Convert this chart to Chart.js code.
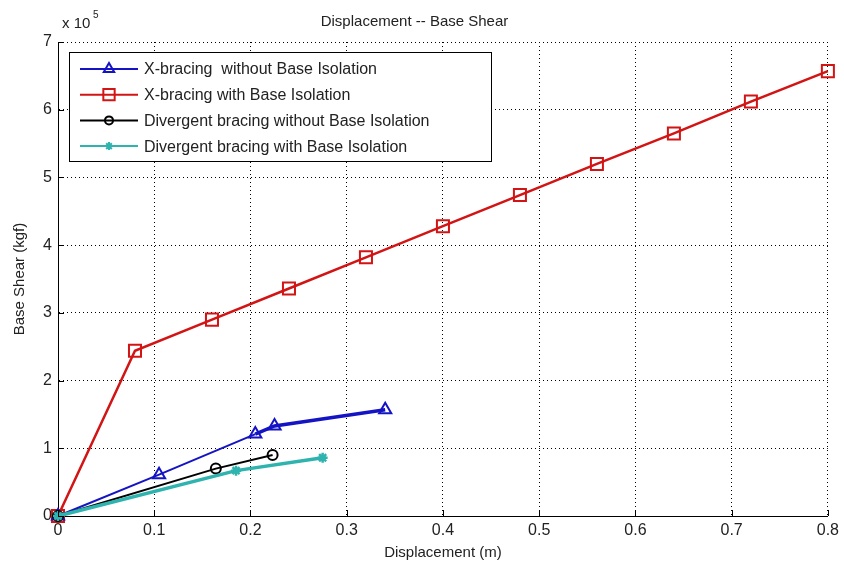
<!DOCTYPE html>
<html>
<head>
<meta charset="utf-8">
<script src="https://cdn.jsdelivr.net/npm/chart.js@4.4.1/dist/chart.umd.min.js"></script>
<style>
  html, body { margin: 0; padding: 0; background: #fff; }
  #wrap { width: 844px; height: 570px; position: relative; }
</style>
</head>
<body>
<div id="wrap"><canvas id="shearChart"></canvas></div>
<script>
// valores (deslocamento em m, cortante em 1e5 kgf)
const xTickLabels = ["0", "0.1", "0.2", "0.3", "0.4", "0.5", "0.6", "0.7", "0.8"];
const yTickLabels = ["0", "1", "2", "3", "4", "5", "6", "7"];

const xbNoIsoX = [0, 0.105, 0.205, 0.225, 0.34];
const xbNoIsoY = [0, 0.61, 1.21, 1.33, 1.57];

const xbIsoX = [0, 0.08, 0.16, 0.24, 0.32, 0.40, 0.48, 0.56, 0.64, 0.72, 0.80];
const xbIsoY = [0, 2.44, 2.90, 3.36, 3.82, 4.28, 4.74, 5.20, 5.65, 6.12, 6.57];

const dvNoIsoX = [0, 0.164, 0.223];
const dvNoIsoY = [0, 0.70, 0.90];

const dvIsoX = [0, 0.185, 0.275];
const dvIsoY = [0, 0.67, 0.86];

const seriesLabels = [
  "X-bracing  without Base Isolation",
  "X-bracing with Base Isolation",
  "Divergent bracing without Base Isolation",
  "Divergent bracing with Base Isolation",
];

const FONT = "'Liberation Sans', Arial, sans-serif";

function pares(xs, ys) {
  return xs.map((x, i) => ({ x, y: ys[i] }));
}

// ticks para dentro, como no MATLAB
const ticksInternos = {
  id: "ticksInternos",
  afterDatasetsDraw(chart) {
    const { ctx, chartArea, scales } = chart;
    ctx.save();
    ctx.strokeStyle = "#000";
    ctx.lineWidth = 1;
    scales.x.ticks.forEach((t) => {
      const px = Math.round(scales.x.getPixelForValue(t.value)) + 0.5;
      ctx.beginPath();
      ctx.moveTo(px, chartArea.bottom);
      ctx.lineTo(px, chartArea.bottom - 6);
      ctx.stroke();
    });
    scales.y.ticks.forEach((t) => {
      const py = Math.round(scales.y.getPixelForValue(t.value)) + 0.5;
      ctx.beginPath();
      ctx.moveTo(chartArea.left, py);
      ctx.lineTo(chartArea.left + 6, py);
      ctx.stroke();
    });
    // multiplicador do eixo y
    ctx.fillStyle = "#222";
    ctx.font = "15px " + FONT;
    ctx.textBaseline = "alphabetic";
    ctx.fillText("x 10", chartArea.left + 4, chartArea.top - 14);
    ctx.font = "10px " + FONT;
    ctx.fillText("5", chartArea.left + 35, chartArea.top - 24);
    ctx.restore();
  },
};

// legenda dentro da área do gráfico
const legendaInterna = {
  id: "legendaInterna",
  afterDraw(chart) {
    const { ctx, chartArea } = chart;
    const x0 = chartArea.left + 11;
    const y0 = chartArea.top + 10;
    const w = 422;
    const h = 109;
    ctx.save();
    ctx.fillStyle = "#fff";
    ctx.fillRect(x0, y0, w, h);
    ctx.strokeStyle = "#000";
    ctx.lineWidth = 1;
    ctx.strokeRect(x0 + 0.5, y0 + 0.5, w, h);

    chart.data.datasets.forEach((ds, i) => {
      const yy = y0 + 17 + i * 25.7;
      ctx.strokeStyle = ds.borderColor;
      ctx.lineWidth = 2;
      ctx.beginPath();
      ctx.moveTo(x0 + 11, yy);
      ctx.lineTo(x0 + 69, yy);
      ctx.stroke();
      ctx.fillStyle = ds.pointBackgroundColor;
      Chart.helpers.drawPoint(
        ctx,
        {
          pointStyle: ds.pointStyle,
          radius: ds.legendRadius,
          borderWidth: 2,
        },
        x0 + 40,
        yy
      );
      ctx.fillStyle = "#222";
      ctx.font = "16px " + FONT;
      ctx.textBaseline = "middle";
      ctx.fillText(seriesLabels[i], x0 + 75, yy + 1);
    });
    ctx.restore();
  },
};

const ctx = document.getElementById("shearChart").getContext("2d");
new Chart(ctx, {
  type: "line",
  data: {
    datasets: [
      {
        label: seriesLabels[0],
        data: pares(xbNoIsoX, xbNoIsoY),
        borderColor: "#1414c4",
        backgroundColor: "#1414c4",
        borderWidth: 2,
        segment: { borderWidth: (c) => (c.p0DataIndex >= 2 ? 3.5 : 2) },
        pointStyle: "triangle",
        pointRadius: 7,
        legendRadius: 6,
        pointBorderWidth: 2,
        pointBackgroundColor: "rgba(255,255,255,0)",
        order: 2,
      },
      {
        label: seriesLabels[1],
        data: pares(xbIsoX, xbIsoY),
        borderColor: "#d21414",
        backgroundColor: "#d21414",
        borderWidth: 2.5,
        pointStyle: "rect",
        pointRadius: 8.5,
        legendRadius: 8,
        pointBorderWidth: 2,
        pointBackgroundColor: "rgba(255,255,255,0)",
        order: 3,
      },
      {
        label: seriesLabels[2],
        data: pares(dvNoIsoX, dvNoIsoY),
        borderColor: "#000",
        backgroundColor: "#000",
        borderWidth: 2,
        pointStyle: "circle",
        pointRadius: 5,
        legendRadius: 4,
        pointBorderWidth: 2,
        pointBackgroundColor: "rgba(255,255,255,0)",
        order: 1,
      },
      {
        label: seriesLabels[3],
        data: pares(dvIsoX, dvIsoY),
        borderColor: "#2fb3ae",
        backgroundColor: "#2fb3ae",
        borderWidth: 3.5,
        pointStyle: "star",
        pointRadius: 5,
        legendRadius: 4,
        pointBorderWidth: 2.5,
        pointBackgroundColor: "#2fb3ae",
        order: 0,
      },
    ],
  },
  options: {
    responsive: true,
    maintainAspectRatio: false,
    animation: false,
    clip: false,
    layout: { padding: { left: 0, right: 15, top: 0, bottom: 0 } },
    elements: { line: { tension: 0 } },
    plugins: {
      legend: { display: false },
      tooltip: { enabled: false },
      title: {
        display: true,
        text: "Displacement -- Base Shear",
        color: "#222",
        font: { family: FONT, size: 15, weight: "normal" },
        padding: { top: 13, bottom: 11 },
      },
    },
    scales: {
      x: {
        type: "linear",
        min: 0,
        max: 0.8,
        ticks: {
          stepSize: 0.1,
          color: "#222",
          font: { family: FONT, size: 16 },
          padding: 5,
          maxRotation: 0,
          callback: (v, i) => xTickLabels[i],
        },
        grid: { color: "#000", lineWidth: 1, drawTicks: false },
        border: { display: true, color: "#000", width: 1, dash: [1, 3] },
        title: {
          display: true,
          text: "Displacement (m)",
          color: "#222",
          font: { family: FONT, size: 15 },
          padding: { top: 0, bottom: 8 },
        },
        afterFit: (scale) => { scale.height = 54; },
      },
      y: {
        type: "linear",
        min: 0,
        max: 7,
        ticks: {
          stepSize: 1,
          color: "#222",
          font: { family: FONT, size: 16 },
          padding: 6,
          callback: (v, i) => yTickLabels[i],
        },
        grid: { color: "#000", lineWidth: 1, drawTicks: false },
        border: { display: true, color: "#000", width: 1, dash: [1, 3] },
        title: {
          display: true,
          text: "Base Shear (kgf)",
          color: "#222",
          font: { family: FONT, size: 15 },
          padding: { top: 11, bottom: 4 },
        },
        afterFit: (scale) => { scale.width = 58; },
      },
    },
  },
  plugins: [ticksInternos, legendaInterna],
});
</script>
</body>
</html>
